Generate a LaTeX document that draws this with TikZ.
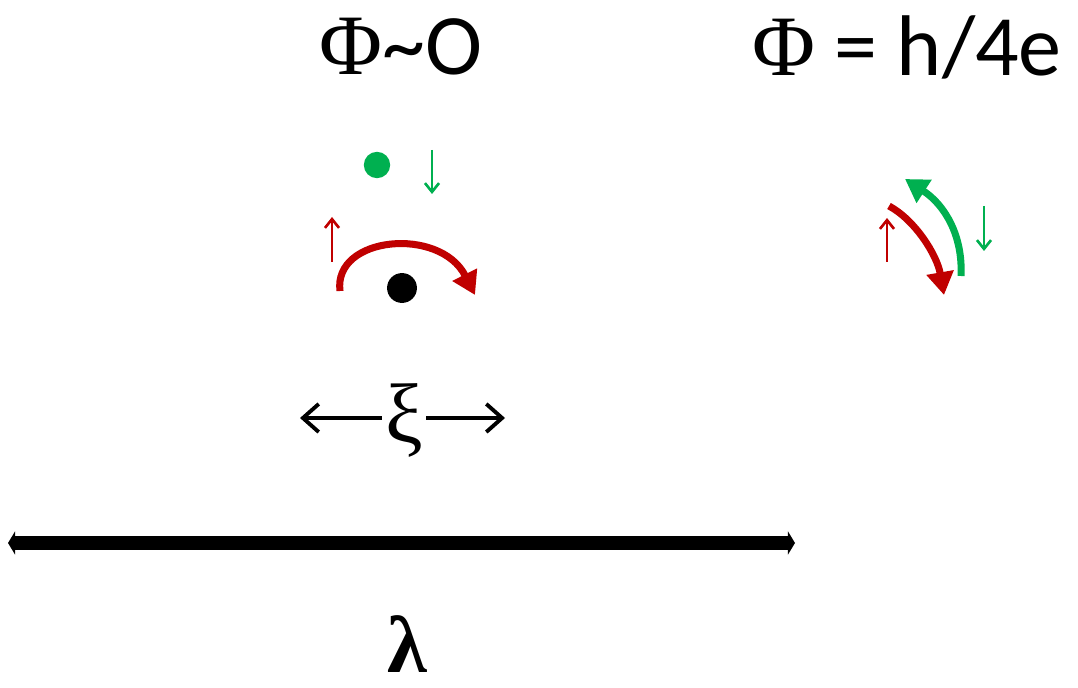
\documentclass[tikz,border=0pt]{standalone}
\usepackage{fontspec}
\setmainfont{Liberation Serif}
\newfontfamily\calfont{Carlito}
\usetikzlibrary{positioning, arrows.meta}
\definecolor{spinred}{RGB}{192,0,0}
\definecolor{spingreen}{RGB}{0,176,80}

\begin{document}
\begin{tikzpicture}[
      x=0.02cm, y=-0.02cm,
      title/.style={font=\fontsize{49}{55}\selectfont, inner sep=0pt},
      dot/.style={circle, inner sep=0pt, minimum size=15pt},
      spin/.style={line width=1.5pt, -{Straight Barb[length=5pt, width=8pt]}},
      curl/.style={line width=4pt, -{Triangle[length=13pt, width=15pt]}},
      lengthbar/.style={line width=8pt, {Triangle[length=4pt, width=13pt]}-{Triangle[length=4pt, width=13pt]}}
  ]
  \useasboundingbox (0,0) rectangle (1078,688);

  % headings
  \node[title] (zeroflux) at (401,47) {Φ{\calfont\textasciitilde O}};
  \node[title] (halfflux) at (907,47) {Φ{\calfont\ = h/4e}};

  % left: vortex with spins
  \node[dot, fill=spingreen] (gdot) at (377,165) {};
  \node[dot, fill=black, minimum size=17pt] (core) at (402,288) {};
  \coordinate (gtop) at (432,150);
  \coordinate (gbot) at (432,194);
  \coordinate (rbot) at (332,262);
  \coordinate (rtop) at (332,217);
  \draw[spin, spingreen] (gtop) -- (gbot);
  \draw[spin, spinred] (rbot) -- (rtop);
  \coordinate (cstart) at (340,291);
  \coordinate (cend) at (475,295);
  \draw[curl, spinred] (cstart) .. controls (333,236) and (440,226) .. (cend);

  % right: counter-propagating spins
  \coordinate (rstart) at (889,206);
  \coordinate (rend) at (944,295);
  \coordinate (gstart) at (961,276);
  \coordinate (gend) at (905,179);
  \draw[curl, spinred] (rstart) .. controls (915,220) and (937,255) .. (rend);
  \draw[curl, spingreen] (gstart) .. controls (963,236) and (945,205) .. (gend);
  \coordinate (rrbot) at (887,262);
  \coordinate (rrtop) at (887,218);
  \coordinate (ggtop) at (984,206);
  \coordinate (ggbot) at (984,251);
  \draw[spin, spinred] (rrbot) -- (rrtop);
  \draw[spin, spingreen] (ggtop) -- (ggbot);

  % coherence length
  \node[font=\fontsize{48}{54}\selectfont, inner sep=0pt] (xi) at (404,420) {ξ};
  \coordinate (xil) at (300,418);
  \coordinate (xir) at (505,418);
  \draw[line width=2.2pt, -{Straight Barb[length=9pt, width=16pt]}] (xi.west) ++(-3,-2) coordinate (xiw) (xiw) -- (xil);
  \draw[line width=2.2pt, -{Straight Barb[length=9pt, width=16pt]}] (xi.east) ++(3,-2) coordinate (xie) (xie) -- (xir);

  % penetration depth
  \coordinate (lamleft) at (8,543);
  \coordinate (lamright) at (795,543);
  \draw[lengthbar] (lamleft) -- (lamright);
  \node[font=\bfseries\fontsize{46}{52}\selectfont, inner sep=0pt, anchor=base] (lambda) at (407,672) {λ};
\end{tikzpicture}
\end{document}
